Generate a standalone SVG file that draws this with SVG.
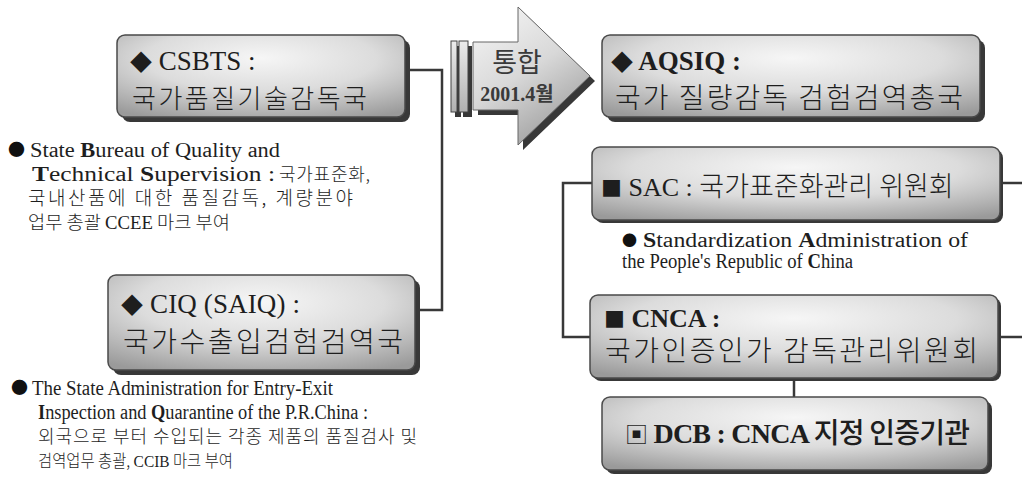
<svg xmlns="http://www.w3.org/2000/svg" width="1022" height="481" viewBox="0 0 1022 481">
<defs>
<radialGradient id="boxg" cx="0.5" cy="0.3" r="0.8" fx="0.5" fy="0.28">
<stop offset="0" stop-color="#f6f6f6"/>
<stop offset="0.5" stop-color="#dcdcdc"/>
<stop offset="1" stop-color="#9a9a9a"/>
</radialGradient>
<linearGradient id="arrg" x1="0" y1="0" x2="0.55" y2="1">
<stop offset="0" stop-color="#f8f8f8"/>
<stop offset="0.55" stop-color="#d8d8d8"/>
<stop offset="1" stop-color="#a2a2a2"/>
</linearGradient>
<linearGradient id="barg" x1="0" y1="0" x2="0" y2="1">
<stop offset="0" stop-color="#ececec"/>
<stop offset="1" stop-color="#b0b0b0"/>
</linearGradient>
</defs>
<style>
.box{fill:url(#boxg);stroke:#4a4a4a;stroke-width:1.5}
.sh{fill:#383838}
.con{fill:none;stroke:#383838;stroke-width:2.5}
.en{font-family:"Liberation Serif","Noto Sans CJK KR",serif;fill:#1e1e1e}
.kr{font-family:"Noto Sans CJK KR","Liberation Sans",sans-serif;font-weight:300;fill:#1e1e1e}
.sym{font-family:"Noto Sans CJK KR",sans-serif;font-weight:normal}
.b{font-weight:bold}
.dkr{font-family:"Noto Sans CJK KR","Liberation Sans",sans-serif;font-weight:300}
</style>
<rect width="1022" height="481" fill="#ffffff"/>

<g id="connectors">
<polyline class="con" points="405,70 442,70 442,310 415,310"/>
<polyline class="con" points="592,183 563,183 563,337 590,337"/>
<line class="con" x1="1000" y1="183" x2="1022" y2="183"/>
<line class="con" x1="998" y1="337" x2="1022" y2="337"/>
<line class="con" x1="794" y1="378" x2="794" y2="397"/>
</g>

<g id="merge-arrow">
<rect class="sh" x="455" y="46" width="6" height="71"/>
<rect class="sh" x="463" y="46" width="9" height="71"/>
<polygon class="sh" points="478,47 523,47 523,12 595,81 523,150 523,115 478,115"/>
<rect x="451" y="41" width="6" height="71" fill="url(#barg)" stroke="#444" stroke-width="1"/>
<rect x="459" y="41" width="9" height="71" fill="url(#barg)" stroke="#444" stroke-width="1"/>
<polygon points="473,42 518,42 518,7 590,76 518,145 518,110 473,110" fill="url(#arrg)" stroke="#666" stroke-width="1"/>
<text x="517" y="72" text-anchor="middle" font-family="'Noto Sans CJK KR',sans-serif" font-size="27" fill="#3a3a3a">통합</text>
<text x="517" y="101" text-anchor="middle" class="b" font-family="'Liberation Serif','Noto Sans CJK KR',serif" font-size="20" fill="#3a3a3a">2001.4월</text>
</g>

<g id="csbts">
<rect class="sh" x="122" y="40" width="288" height="82" rx="8"/>
<rect class="box" x="117" y="35" width="288" height="82" rx="8"/>
<text class="en" x="130" y="70" font-size="27"><tspan class="sym" font-size="22">◆</tspan> CSBTS :</text>
<text class="kr" x="132" y="108" font-size="26" textLength="235" lengthAdjust="spacing">국가품질기술감독국</text>
</g>

<g id="csbts-desc">
<text class="sym" x="8" y="156" font-size="17" fill="#111">●</text>
<text class="en" x="30" y="157" font-size="20" textLength="250" lengthAdjust="spacingAndGlyphs">State <tspan class="b">B</tspan>ureau of Quality and</text>
<text class="en" x="32" y="181" font-size="20" textLength="243" lengthAdjust="spacingAndGlyphs"><tspan class="b">T</tspan>echnical <tspan class="b">S</tspan>upervision :</text>
<text class="dkr" x="279" y="181" font-size="18" fill="#1e1e1e" textLength="91" lengthAdjust="spacing">국가표준화,</text>
<text class="dkr" x="28" y="205" font-size="19" fill="#1e1e1e" textLength="325" lengthAdjust="spacing">국내산품에 대한 품질감독, 계량분야</text>
<text class="dkr" x="28" y="229" font-size="18" fill="#1e1e1e" textLength="202" lengthAdjust="spacingAndGlyphs">업무 총괄 <tspan font-family="'Liberation Serif',serif" font-weight="normal">CCEE</tspan> 마크 부여</text>
</g>

<g id="ciq">
<rect class="sh" x="113" y="280" width="307" height="95" rx="8"/>
<rect class="box" x="108" y="275" width="307" height="95" rx="8"/>
<text class="en" x="121" y="313" font-size="27" textLength="179" lengthAdjust="spacing"><tspan class="sym" font-size="22">◆</tspan> CIQ (SAIQ) :</text>
<text class="kr" x="123" y="352" font-size="28" textLength="280" lengthAdjust="spacing">국가수출입검험검역국</text>
</g>

<g id="ciq-desc">
<text class="sym" x="11" y="394" font-size="17" fill="#111">●</text>
<text class="en" x="32" y="395" font-size="20" textLength="301" lengthAdjust="spacingAndGlyphs">The State Administration for Entry-Exit</text>
<text class="en" x="38" y="419" font-size="20" textLength="330" lengthAdjust="spacingAndGlyphs"><tspan class="b">I</tspan>nspection and <tspan class="b">Q</tspan>uarantine of the P.R.China :</text>
<text class="dkr" x="38" y="443" font-size="18" fill="#1e1e1e" textLength="379" lengthAdjust="spacing">외국으로 부터 수입되는 각종 제품의 품질검사 및</text>
<text class="dkr" x="38" y="467" font-size="17" fill="#1e1e1e" textLength="195" lengthAdjust="spacingAndGlyphs">검역업무 총괄, <tspan font-family="'Liberation Serif',serif">CCIB</tspan> 마크 부여</text>
</g>

<g id="aqsiq">
<rect class="sh" x="607" y="40" width="378" height="82" rx="8"/>
<rect class="box" x="602" y="35" width="378" height="82" rx="8"/>
<text class="en b" x="611" y="70" font-size="27"><tspan class="sym" font-size="22">◆</tspan> AQSIQ :</text>
<text class="kr" x="615" y="108" font-size="28" textLength="348" lengthAdjust="spacing">국가 질량감독 검험검역총국</text>
</g>

<g id="sac">
<rect class="sh" x="595" y="150" width="408" height="73" rx="8"/>
<rect class="box" x="592" y="147" width="408" height="73" rx="8"/>
<text class="en" x="601" y="196" font-size="26"><tspan class="sym" font-size="21">■</tspan> SAC : <tspan class="dkr" font-size="27">국가표준화관리 위원회</tspan></text>
</g>

<g id="sac-desc">
<text class="sym" x="622" y="246" font-size="15" fill="#111">●</text>
<text class="en" x="643" y="247" font-size="20" textLength="325" lengthAdjust="spacingAndGlyphs"><tspan class="b">S</tspan>tandardization <tspan class="b">A</tspan>dministration of</text>
<text class="en" x="622" y="268" font-size="20" textLength="231" lengthAdjust="spacingAndGlyphs">the People's Republic of <tspan class="b">C</tspan>hina</text>
</g>

<g id="cnca">
<rect class="sh" x="593" y="298" width="408" height="83" rx="8"/>
<rect class="box" x="590" y="295" width="408" height="83" rx="8"/>
<text class="en b" x="604" y="327" font-size="26"><tspan class="sym" font-size="21">■</tspan> CNCA :</text>
<text class="kr" x="605" y="361" font-size="28" textLength="373" lengthAdjust="spacing">국가인증인가 감독관리위원회</text>
</g>

<g id="dcb">
<rect class="sh" x="606" y="401" width="386" height="73" rx="8"/>
<rect class="box" x="602" y="397" width="386" height="73" rx="8"/>
<text class="en b" x="625" y="443" font-size="28" textLength="345" lengthAdjust="spacing"><tspan class="sym" font-weight="normal" font-size="23">▣</tspan> DCB : CNCA <tspan font-family="'Noto Sans CJK KR',sans-serif" font-weight="500">지정 인증기관</tspan></text>
</g>
</svg>
